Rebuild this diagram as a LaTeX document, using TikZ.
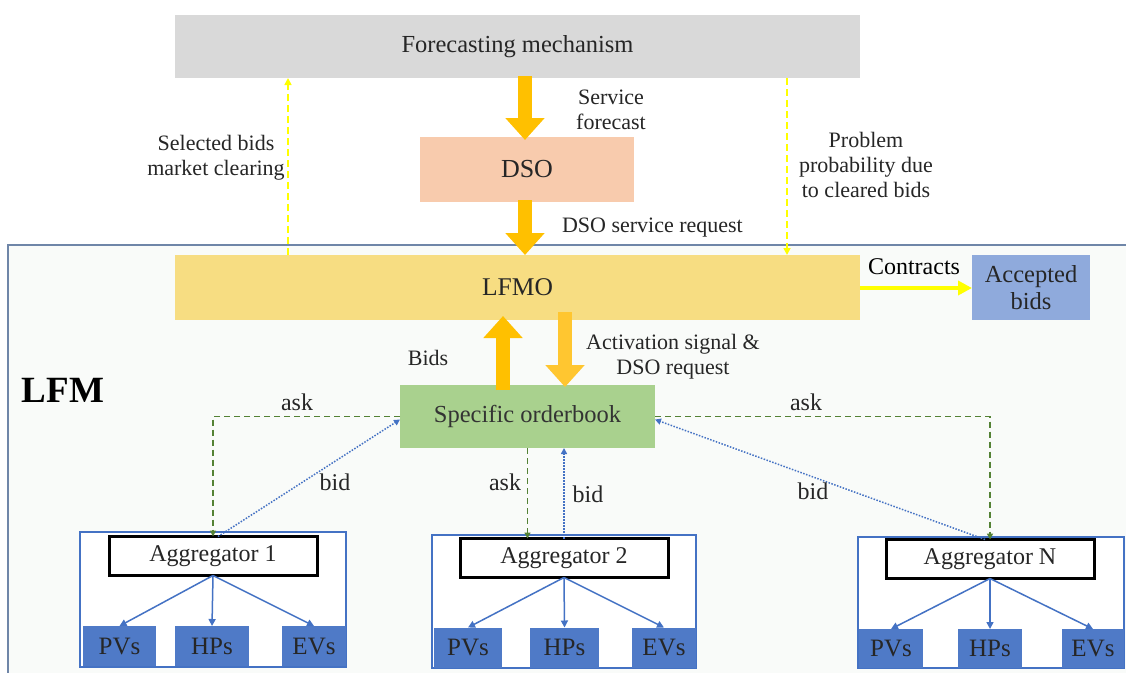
\documentclass[tikz,border=0pt]{standalone}
\usepackage{fontspec}
\setmainfont{Liberation Serif}
\newfontfamily\tnr{Liberation Serif}
\usetikzlibrary{arrows.meta}
\definecolor{foregray}{HTML}{D9D9D9}
\definecolor{dsopeach}{HTML}{F8CBAD}
\definecolor{lfmogold}{HTML}{F7DD82}
\definecolor{accblue}{HTML}{8FAADC}
\definecolor{obgreen}{HTML}{A9D18E}
\definecolor{orangeA}{HTML}{FFC000}
\definecolor{orangeB}{HTML}{FFC630}
\definecolor{yel}{HTML}{FFFF00}
\definecolor{askgreen}{HTML}{548235}
\definecolor{bidblue}{HTML}{4472C4}
\definecolor{childblue}{HTML}{4F7AC7}
\definecolor{lfmbg}{HTML}{F9FBF9}
\definecolor{lfmline}{HTML}{6F86A8}
\definecolor{txt}{HTML}{262626}
\begin{document}
\begin{tikzpicture}[x=1pt,y=-1pt,
  every node/.style={outer sep=0pt, inner sep=1pt, text=txt, font=\tnr\fontsize{22}{25}\selectfont},
  big/.style={font=\tnr\fontsize{25}{28}\selectfont},
  blk/.style={draw=none, align=center, big},
  bigarrow/.style={line width=14pt, draw=orangeA, -{Triangle[width=38pt,length=22pt]}},
  yelarrow/.style={draw=yel, line width=1.6pt, dash pattern=on 7pt off 4pt, -{Triangle[width=7pt,length=7pt]}},
  askline/.style={draw=askgreen, line width=1.5pt, dash pattern=on 6pt off 4pt, -{Triangle[width=6pt,length=6pt]}},
  bidline/.style={draw=bidblue, line width=1.5pt, dash pattern=on 1.5pt off 1.5pt, -{Triangle[width=6pt,length=6pt]}},
  grp/.style={draw=bidblue, line width=1.2pt, fill=white},
  aggbox/.style={draw=black, line width=3pt, fill=white, minimum width=208, minimum height=39, font=\tnr\fontsize{24}{27}\selectfont},
  child/.style={fill=childblue, minimum height=40, big},
  childarrow/.style={draw=bidblue, line width=1.5pt, -{Triangle[width=7pt,length=7pt]}},
  lbl/.style={align=center},
  ab/.style={font=\tnr\fontsize{24}{27}\selectfont}
]
\useasboundingbox (0,0) rectangle (1126,672);
\clip (0,0) rectangle (1126,672);
\fill[white] (0,0) rectangle (1126,672);
% LFM frame
\draw[draw=lfmline, line width=1.2pt, fill=lfmbg] (8,245) rectangle (1140,690);
\node[font=\tnr\fontsize{37}{40}\selectfont\bfseries, text=black] (lfmlabel) at (63,390) {LFM};

% top boxes
\node[blk, fill=foregray, minimum width=685, minimum height=63, font=\tnr\fontsize{24.5}{28}\selectfont] (fore) at (517.5,46.5) {Forecasting mechanism};
\node[blk, fill=dsopeach, minimum width=214, minimum height=65, font=\tnr\fontsize{26}{29}\selectfont] (dso) at (527,169.5) {DSO};
\node[blk, fill=lfmogold, minimum width=685, minimum height=65, font=\tnr\fontsize{25.5}{29}\selectfont] (lfmo) at (517.5,287.5) {LFMO};
\node[blk, fill=accblue, minimum width=118, minimum height=65, font=\tnr\fontsize{24.5}{27}\selectfont] (acc) at (1031,287.5) {Accepted\\bids};
\node[blk, fill=obgreen, minimum width=255, minimum height=63, text=black!80, font=\tnr\fontsize{24.5}{28}\selectfont] (ob) at (527.5,416.5) {Specific orderbook};

% big arrows
\draw[bigarrow] ([xshift=-2pt,yshift=2pt]fore.south -| dso.north) -- ([xshift=-2pt,yshift=-3pt]dso.north);
\draw[bigarrow] ([xshift=-2pt,yshift=2pt]dso.south) -- ([xshift=-2pt]dso.south |- lfmo.north);
\draw[bigarrow] ([xshift=-24.5pt,yshift=-5pt]ob.north) -- ([xshift=-24.5pt,yshift=4pt]ob.north |- lfmo.south);
\draw[bigarrow, draw=orangeB] ([xshift=37.5pt,yshift=8pt]ob.north |- lfmo.south) -- ([xshift=37.5pt,yshift=-2pt]ob.north);

% labels for top arrows
\node[lbl] (lsf) at (611,110) {Service\\forecast};
\node[lbl, anchor=west] (ldsr) at (561,228) {DSO service request};
\node[lbl] (lsb) at (216,158) {Selected bids\\market clearing};
\node[lbl] (lpp) at (866,165) {Problem\\probability due\\to cleared bids};
\node[lbl] (lbids) at (428,358) {Bids};
\node[lbl] (lact) at (673,357) {Activation signal \&\\DSO request};

% yellow dashed
\draw[yelarrow] (lfmo.north -| 288,0) -- (fore.south -| 288,0);
\draw[yelarrow] (fore.south -| 787,0) -- (lfmo.north -| 787,0);

% contracts
\draw[draw=yel, line width=4pt, -{Triangle[width=14pt,length=14pt]}] ([yshift=-0.5pt]lfmo.east) -- ([yshift=-0.5pt]acc.west);
\node[lbl, font=\tnr\fontsize{24}{27}\selectfont, text=black] (lcon) at (914,267) {Contracts};

% groups
\draw[grp] (80,532) rectangle (346,667);
\draw[grp] (432,535) rectangle (696,668);
\draw[grp] (858,537) rectangle (1124,668);

\node[aggbox] (agg1) at (213,556) {Aggregator 1};
\node[aggbox] (agg2) at (564,558) {Aggregator 2};
\node[aggbox] (aggN) at (990,559) {Aggregator N};

\node[child, minimum width=73] (pv1) at (119.5,646) {PVs};
\node[child, minimum width=74] (hp1) at (212,646) {HPs};
\node[child, minimum width=64] (ev1) at (314,646) {EVs};
\node[child, minimum width=68] (pv2) at (468,647.5) {PVs};
\node[child, minimum width=69] (hp2) at (564.5,647.5) {HPs};
\node[child, minimum width=64] (ev2) at (664,647.5) {EVs};
\node[child, minimum width=64, minimum height=39] (pvN) at (891,648.5) {PVs};
\node[child, minimum width=64, minimum height=39] (hpN) at (990,648.5) {HPs};
\node[child, minimum width=62, minimum height=39] (evN) at (1093,648.5) {EVs};

\foreach \a/\c in {agg1/pv1, agg1/hp1, agg1/ev1, agg2/pv2, agg2/hp2, agg2/ev2, aggN/pvN, aggN/hpN, aggN/evN}{
  \draw[childarrow] (\a.south) -- (\c.north);
}

% ask lines
\draw[askline] (ob.west) -| (agg1.north);
\draw[askline] (ob.east) -| (aggN.north);
\draw[askline] (ob.south) -- (ob.south |- agg2.north);
\node[lbl, ab] (ask1) at (297,402) {ask};
\node[lbl, ab] (ask2) at (505,482) {ask};
\node[lbl, ab] (askN) at (806,402) {ask};

% bid lines
\draw[bidline] ([xshift=5pt]agg1.north) -- ([yshift=-3pt]ob.west);
\draw[bidline] (agg2.north) -- (agg2.north |- ob.south);
\draw[bidline] ([xshift=-5pt]aggN.north) -- ([yshift=-3pt]ob.east);
\node[lbl, ab] (bid1) at (335,482) {bid};
\node[lbl, ab] (bid2) at (588,494) {bid};
\node[lbl, ab] (bidN) at (813,491) {bid};
\end{tikzpicture}
\end{document}
